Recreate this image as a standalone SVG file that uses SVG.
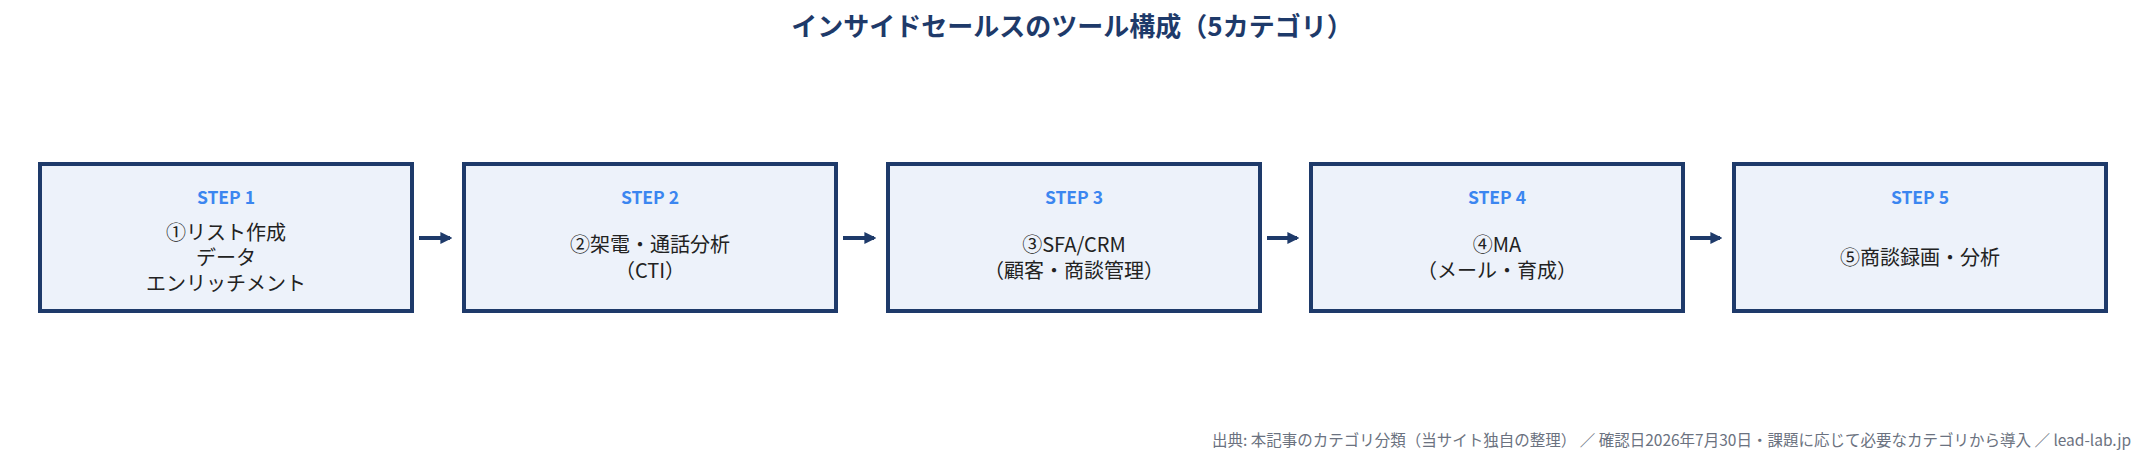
<svg xmlns="http://www.w3.org/2000/svg" width="2145" height="462" viewBox="0 0 2145 462">
<style>
text{font-family:"Noto Sans CJK JP","Noto Sans",sans-serif}
.box{fill:#edf2fa;stroke:#1e3a6a;stroke-width:4}
.step{fill:#3b86f0;font-size:17.5px;font-weight:bold;text-anchor:middle}
.body{fill:#222;font-size:20px;text-anchor:middle}
.conn{stroke:#1e3a6a;stroke-width:4;fill:none}
</style>
<defs><marker id="ah" viewBox="0 0 10 10" refX="8" refY="5" markerWidth="3" markerHeight="3" orient="auto"><path d="M0,0L10,5L0,10z" fill="#1e3a6a"/></marker></defs>
<rect width="2145" height="462" fill="#fff"/>
<text x="1072" y="36" text-anchor="middle" font-size="26" font-weight="bold" fill="#1e3a6a">インサイドセールスのツール構成（5カテゴリ）</text>
<g id="n1"><rect class="box" x="40" y="164" width="372" height="147"/><text class="step" x="226" y="204">STEP 1</text><text class="body" x="226" y="240">①リスト作成</text><text class="body" x="226" y="265">データ</text><text class="body" x="226" y="291">エンリッチメント</text></g>
<g id="n2"><rect class="box" x="464" y="164" width="372" height="147"/><text class="step" x="650" y="204">STEP 2</text><text class="body" x="650" y="252">②架電・通話分析</text><text class="body" x="650" y="278">（CTI）</text></g>
<g id="n3"><rect class="box" x="888" y="164" width="372" height="147"/><text class="step" x="1074" y="204">STEP 3</text><text class="body" x="1074" y="252">③SFA/CRM</text><text class="body" x="1074" y="278">（顧客・商談管理）</text></g>
<g id="n4"><rect class="box" x="1311" y="164" width="372" height="147"/><text class="step" x="1497" y="204">STEP 4</text><text class="body" x="1497" y="252">④MA</text><text class="body" x="1497" y="278">（メール・育成）</text></g>
<g id="n5"><rect class="box" x="1734" y="164" width="372" height="147"/><text class="step" x="1920" y="204">STEP 5</text><text class="body" x="1920" y="265">⑤商談録画・分析</text></g>
<g id="connectors">
<line class="conn" x1="419" y1="238" x2="450" y2="238" marker-end="url(#ah)"/>
<line class="conn" x1="843" y1="238" x2="874" y2="238" marker-end="url(#ah)"/>
<line class="conn" x1="1267" y1="238" x2="1297" y2="238" marker-end="url(#ah)"/>
<line class="conn" x1="1690" y1="238" x2="1720" y2="238" marker-end="url(#ah)"/>
</g>
<text x="2131" y="446" text-anchor="end" font-size="15.5" fill="#6b7280">出典: 本記事のカテゴリ分類（当サイト独自の整理） ／ 確認日2026年7月30日・課題に応じて必要なカテゴリから導入 ／ lead-lab.jp</text>
</svg>
